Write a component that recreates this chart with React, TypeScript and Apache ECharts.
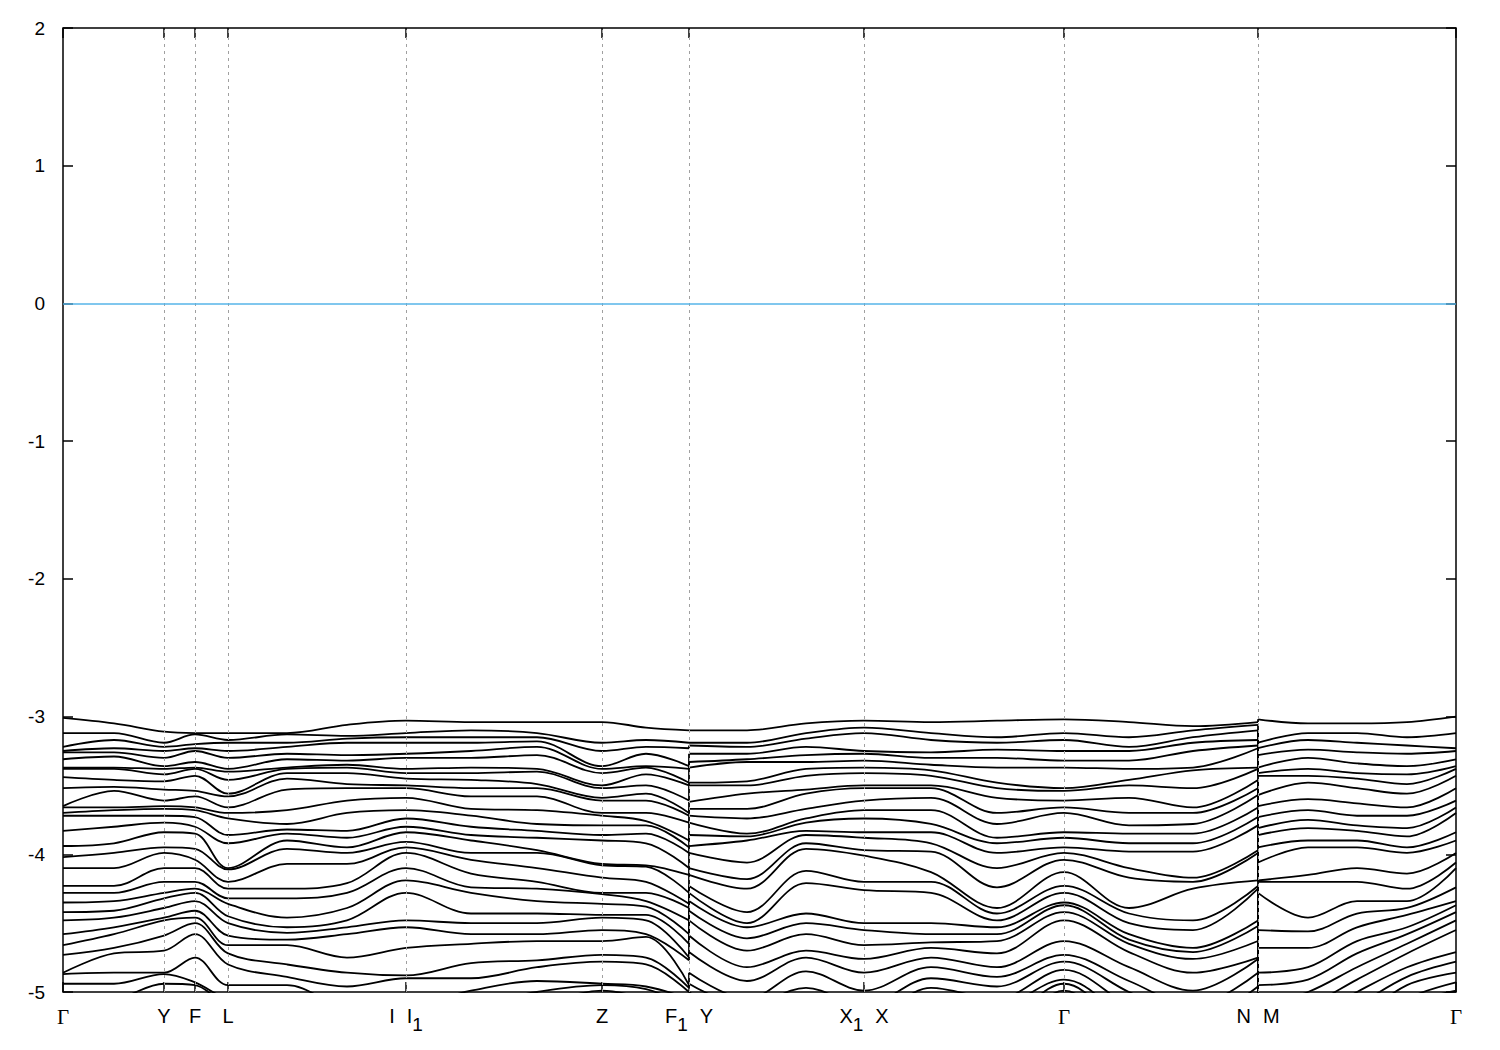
import React, { useEffect, useRef } from "react";
import * as echarts from "echarts";

// k-path distances (arbitrary units) of the sampled k-points
const kA = [0, 51, 101, 132, 165, 224, 284, 343, 408, 474, 539, 583, 626];
const kB = [626, 684, 743, 801, 868, 934, 1001, 1066, 1130, 1195];
const kC = [1195, 1245, 1294, 1344, 1393];

// high-symmetry points
const symPos = [0, 101, 132, 165, 343, 539, 626, 801, 1001, 1195, 1393];
const symLabels = ["Γ", "Y", "F", "L", "I|I_1", "Z", "F_1|Y", "X_1|X", "Γ", "N|M", "Γ"];

// eigenvalues (eV) at each k-point, sorted from highest band down
// segment Γ-Y-F-L-I | I1-Z-F1
const eA0 = [-3.01, -3.12, -3.22, -3.25, -3.26, -3.31, -3.37, -3.38, -3.44, -3.52, -3.65, -3.66, -3.70, -3.72, -3.83, -3.94, -4.02, -4.10, -4.23, -4.28, -4.35, -4.42, -4.48, -4.58, -4.66, -4.73, -4.86, -4.87, -4.94, -5.06];
const eA1 = [-3.05, -3.12, -3.17, -3.23, -3.26, -3.29, -3.37, -3.38, -3.46, -3.51, -3.54, -3.66, -3.68, -3.72, -3.80, -3.92, -3.99, -4.10, -4.23, -4.28, -4.34, -4.41, -4.46, -4.53, -4.58, -4.68, -4.72, -4.86, -4.94, -5.05];
const eA2 = [-3.11, -3.19, -3.22, -3.25, -3.30, -3.36, -3.38, -3.42, -3.47, -3.53, -3.61, -3.65, -3.67, -3.72, -3.77, -3.84, -3.95, -3.99, -4.10, -4.20, -4.28, -4.32, -4.39, -4.46, -4.48, -4.59, -4.70, -4.86, -4.87, -4.94];
const eA3 = [-3.12, -3.13, -3.20, -3.23, -3.25, -3.33, -3.37, -3.38, -3.43, -3.54, -3.58, -3.66, -3.68, -3.73, -3.80, -3.85, -3.96, -4.04, -4.10, -4.20, -4.25, -4.28, -4.34, -4.41, -4.46, -4.50, -4.58, -4.75, -4.93, -4.95];
const eA4 = [-3.12, -3.17, -3.19, -3.25, -3.30, -3.38, -3.40, -3.46, -3.56, -3.58, -3.66, -3.70, -3.74, -3.86, -3.92, -4.10, -4.11, -4.20, -4.25, -4.32, -4.36, -4.45, -4.50, -4.59, -4.66, -4.72, -4.80, -4.95, -5.05, -5.10];
const eA5 = [-3.12, -3.13, -3.19, -3.22, -3.27, -3.31, -3.37, -3.38, -3.41, -3.45, -3.53, -3.68, -3.78, -3.82, -3.85, -3.90, -3.96, -4.07, -4.25, -4.32, -4.46, -4.53, -4.57, -4.62, -4.66, -4.80, -4.89, -4.95, -5.10, -5.20];
const eA6 = [-3.06, -3.14, -3.16, -3.19, -3.28, -3.32, -3.35, -3.37, -3.41, -3.49, -3.52, -3.61, -3.70, -3.83, -3.88, -3.95, -3.99, -4.07, -4.21, -4.28, -4.39, -4.48, -4.53, -4.58, -4.75, -4.86, -4.96, -5.10, -5.20, -5.30];
const eA7 = [-3.03, -3.12, -3.15, -3.19, -3.27, -3.30, -3.38, -3.41, -3.45, -3.50, -3.52, -3.59, -3.68, -3.74, -3.80, -3.84, -3.91, -3.95, -3.99, -4.10, -4.19, -4.28, -4.48, -4.53, -4.68, -4.88, -4.90, -5.10, -5.20, -5.30];
const eA8 = [-3.04, -3.10, -3.15, -3.19, -3.25, -3.30, -3.37, -3.41, -3.46, -3.52, -3.58, -3.67, -3.72, -3.80, -3.86, -3.90, -3.99, -4.04, -4.14, -4.24, -4.28, -4.43, -4.50, -4.58, -4.65, -4.79, -4.90, -4.99, -5.10, -5.20];
const eA9 = [-3.04, -3.12, -3.15, -3.18, -3.22, -3.28, -3.38, -3.40, -3.49, -3.52, -3.58, -3.68, -3.78, -3.83, -3.88, -3.97, -3.99, -4.10, -4.20, -4.25, -4.34, -4.43, -4.50, -4.58, -4.63, -4.77, -4.82, -4.92, -5.00, -5.10];
const eA10 = [-3.04, -3.19, -3.25, -3.36, -3.38, -3.41, -3.50, -3.52, -3.59, -3.61, -3.70, -3.72, -3.79, -3.86, -3.90, -4.07, -4.08, -4.17, -4.28, -4.29, -4.36, -4.44, -4.46, -4.55, -4.63, -4.73, -4.78, -4.94, -4.95, -4.99];
const eA11 = [-3.08, -3.17, -3.22, -3.27, -3.36, -3.37, -3.42, -3.50, -3.56, -3.61, -3.70, -3.76, -3.79, -3.85, -3.92, -4.08, -4.09, -4.20, -4.28, -4.34, -4.38, -4.44, -4.48, -4.58, -4.60, -4.75, -4.80, -4.96, -4.98, -5.05];
const eA12 = [-3.10, -3.19, -3.23, -3.36, -3.38, -3.48, -3.50, -3.61, -3.70, -3.72, -3.77, -3.90, -3.95, -3.99, -4.10, -4.15, -4.28, -4.36, -4.39, -4.48, -4.58, -4.65, -4.75, -4.77, -4.95, -4.97, -5.00, -5.05, -5.10, -5.15];

// segment Y-X1 | X-Γ-N
const eB0 = [-3.10, -3.19, -3.21, -3.27, -3.33, -3.37, -3.48, -3.50, -3.62, -3.67, -3.72, -3.77, -3.86, -3.94, -3.99, -4.10, -4.15, -4.23, -4.28, -4.34, -4.41, -4.48, -4.59, -4.71, -4.86, -4.94, -5.00, -5.05, -5.10, -5.15];
const eB1 = [-3.10, -3.19, -3.22, -3.27, -3.31, -3.33, -3.47, -3.50, -3.56, -3.67, -3.74, -3.85, -3.87, -3.90, -4.06, -4.18, -4.25, -4.42, -4.50, -4.53, -4.61, -4.70, -4.82, -4.92, -5.05, -5.10, -5.20, -5.30, -5.40, -5.50];
const eB2 = [-3.05, -3.12, -3.16, -3.22, -3.28, -3.33, -3.38, -3.43, -3.53, -3.56, -3.67, -3.74, -3.77, -3.83, -3.86, -3.92, -3.96, -4.12, -4.21, -4.43, -4.50, -4.58, -4.70, -4.75, -4.85, -4.97, -5.10, -5.20, -5.30, -5.40];
const eB3 = [-3.03, -3.08, -3.12, -3.25, -3.27, -3.32, -3.37, -3.41, -3.50, -3.52, -3.61, -3.68, -3.74, -3.84, -3.88, -3.97, -4.01, -4.20, -4.26, -4.50, -4.55, -4.66, -4.76, -4.86, -4.99, -5.10, -5.20, -5.30, -5.40, -5.50];
const eB4 = [-3.04, -3.12, -3.17, -3.26, -3.30, -3.35, -3.39, -3.43, -3.50, -3.52, -3.59, -3.68, -3.78, -3.84, -3.92, -3.98, -4.13, -4.20, -4.28, -4.50, -4.58, -4.64, -4.68, -4.75, -4.82, -4.90, -4.97, -5.10, -5.20, -5.30];
const eB5 = [-3.03, -3.15, -3.19, -3.24, -3.30, -3.37, -3.48, -3.52, -3.59, -3.70, -3.78, -3.88, -3.92, -3.99, -4.10, -4.24, -4.39, -4.43, -4.48, -4.53, -4.58, -4.63, -4.72, -4.82, -4.89, -4.96, -5.05, -5.10, -5.20, -5.30];
const eB6 = [-3.02, -3.12, -3.17, -3.25, -3.32, -3.37, -3.52, -3.54, -3.61, -3.66, -3.70, -3.84, -3.88, -3.95, -3.99, -4.04, -4.13, -4.23, -4.28, -4.35, -4.37, -4.42, -4.48, -4.63, -4.73, -4.78, -4.84, -4.91, -4.94, -4.99];
const eB7 = [-3.04, -3.15, -3.22, -3.25, -3.32, -3.38, -3.46, -3.50, -3.59, -3.70, -3.79, -3.85, -3.92, -3.98, -4.10, -4.17, -4.39, -4.43, -4.50, -4.58, -4.62, -4.65, -4.71, -4.82, -4.92, -5.00, -5.10, -5.20, -5.30, -5.40];
const eB8 = [-3.07, -3.10, -3.15, -3.19, -3.25, -3.37, -3.39, -3.52, -3.66, -3.70, -3.78, -3.85, -3.92, -3.98, -4.17, -4.20, -4.25, -4.48, -4.55, -4.68, -4.71, -4.76, -4.86, -4.99, -5.10, -5.20, -5.30, -5.40, -5.50, -5.60];
const eB9 = [-3.04, -3.06, -3.10, -3.17, -3.21, -3.23, -3.37, -3.38, -3.46, -3.52, -3.57, -3.66, -3.73, -3.79, -3.97, -3.99, -4.19, -4.23, -4.25, -4.48, -4.52, -4.63, -4.75, -4.76, -4.86, -4.96, -5.10, -5.20, -5.30, -5.40];

// segment M-Γ
const eC0 = [-3.02, -3.19, -3.23, -3.28, -3.37, -3.41, -3.43, -3.57, -3.65, -3.73, -3.81, -3.86, -3.95, -4.06, -4.19, -4.20, -4.28, -4.55, -4.68, -4.86, -4.95, -5.10, -5.20, -5.30, -5.40, -5.50, -5.60, -5.70, -5.80, -5.90];
const eC1 = [-3.05, -3.12, -3.17, -3.24, -3.30, -3.38, -3.43, -3.48, -3.60, -3.68, -3.75, -3.81, -3.90, -3.95, -4.15, -4.20, -4.46, -4.56, -4.68, -4.82, -4.91, -5.00, -5.10, -5.20, -5.30, -5.40, -5.50, -5.60, -5.70, -5.80];
const eC2 = [-3.05, -3.12, -3.19, -3.26, -3.34, -3.41, -3.45, -3.52, -3.63, -3.72, -3.79, -3.83, -3.90, -3.95, -4.10, -4.20, -4.34, -4.43, -4.53, -4.63, -4.72, -4.82, -4.91, -5.00, -5.10, -5.20, -5.30, -5.40, -5.50, -5.60];
const eC3 = [-3.04, -3.15, -3.21, -3.27, -3.36, -3.42, -3.49, -3.56, -3.66, -3.72, -3.81, -3.87, -3.95, -3.99, -4.14, -4.25, -4.34, -4.39, -4.44, -4.53, -4.58, -4.65, -4.72, -4.82, -4.89, -4.95, -5.05, -5.10, -5.20, -5.30];
const eC4 = [-3.00, -3.12, -3.23, -3.25, -3.31, -3.36, -3.38, -3.43, -3.52, -3.61, -3.66, -3.70, -3.84, -3.90, -3.99, -4.06, -4.10, -4.24, -4.34, -4.37, -4.42, -4.48, -4.55, -4.71, -4.78, -4.86, -4.93, -4.99, -5.05, -5.10];

const yTicks = [-5, -4, -3, -2, -1, 0, 1, 2];
const fermiLevel = 0;

const segA = [eA0, eA1, eA2, eA3, eA4, eA5, eA6, eA7, eA8, eA9, eA10, eA11, eA12];
const segB = [eB0, eB1, eB2, eB3, eB4, eB5, eB6, eB7, eB8, eB9];
const segC = [eC0, eC1, eC2, eC3, eC4];

function toRich(label: string): string {
  return label
    .split("|")
    .map((part) => {
      if (part === "Γ") return "{g|Γ}";
      const [base, sub] = part.split("_");
      return sub ? `{m|${base}}{s|${sub}}` : `{m|${base}}`;
    })
    .join("{sp| }");
}

export default function App() {
  const ref = useRef<HTMLDivElement>(null);

  useEffect(() => {
    if (!ref.current) return;
    const chart = echarts.init(ref.current, undefined, { renderer: "svg" });
    const nBands = eA0.length;
    const series: any[] = [];

    // vertical dashed lines + Fermi level
    series.push({
      type: "line",
      data: [],
      silent: true,
      z: 1,
      markLine: {
        silent: true,
        symbol: "none",
        label: { show: false },
        lineStyle: { color: "#a0a0a0", type: [3, 4], width: 1 },
        data: symPos.slice(1, -1).map((v) => ({ xAxis: v })),
      },
    });
    series.push({
      type: "line",
      data: [],
      silent: true,
      z: 1,
      markLine: {
        silent: true,
        symbol: "none",
        label: { show: false },
        lineStyle: { color: "#56b4e9", type: "solid", width: 1.6 },
        data: [{ yAxis: fermiLevel }],
      },
    });

    const segs: [number[], number[][]][] = [
      [kA, segA],
      [kB, segB],
      [kC, segC],
    ];
    const bandStyle = { color: "#000", width: 1.8 };
    for (let b = 0; b < nBands; b++) {
      for (const [ks, cols] of segs) {
        series.push({
          type: "line",
          data: ks.map((k, j) => [k, cols[j][b]]),
          smooth: 0.35,
          symbol: "none",
          silent: true,
          clip: true,
          z: 3,
          lineStyle: bandStyle,
        });
      }
      // jumps at the path discontinuities
      series.push({
        type: "line",
        data: [
          [kA[kA.length - 1], eA12[b]],
          [kB[0], eB0[b]],
        ],
        symbol: "none",
        silent: true,
        clip: true,
        z: 3,
        lineStyle: bandStyle,
      });
      series.push({
        type: "line",
        data: [
          [kB[kB.length - 1], eB9[b]],
          [kC[0], eC0[b]],
        ],
        symbol: "none",
        silent: true,
        clip: true,
        z: 3,
        lineStyle: bandStyle,
      });
    }

    const font = "Liberation Sans, Arial, sans-serif";
    const tickStyle = { color: "#000", width: 1.5 };
    chart.setOption({
      animation: false,
      backgroundColor: "#fff",
      grid: {
        left: 63,
        right: 44,
        top: 28,
        bottom: 58,
        show: true,
        borderColor: "#000",
        borderWidth: 1.5,
        backgroundColor: "transparent",
      },
      xAxis: [
        {
          type: "value",
          min: symPos[0],
          max: symPos[symPos.length - 1],
          position: "bottom",
          axisLine: { show: false, onZero: false },
          splitLine: { show: false },
          axisTick: {
            show: true,
            inside: true,
            length: 10,
            customValues: symPos,
            lineStyle: tickStyle,
          },
          axisLabel: {
            show: true,
            margin: 14,
            customValues: symPos,
            formatter: (v: number) => {
              const i = symPos.indexOf(v);
              return i >= 0 ? toRich(symLabels[i]) : "";
            },
            rich: {
              m: { fontFamily: font, fontSize: 20, color: "#000", lineHeight: 22, verticalAlign: "top" },
              s: { fontFamily: font, fontSize: 19, color: "#000", lineHeight: 22, verticalAlign: "top", padding: [9, 0, 0, 0] },
              g: { fontFamily: "Liberation Serif, DejaVu Serif, serif", fontSize: 21, color: "#000", lineHeight: 22, verticalAlign: "top" },
              sp: { fontFamily: font, fontSize: 20, width: 12, lineHeight: 22, verticalAlign: "top" },
            },
          },
        },
        {
          type: "value",
          min: symPos[0],
          max: symPos[symPos.length - 1],
          position: "top",
          axisLine: { show: false, onZero: false },
          splitLine: { show: false },
          axisLabel: { show: false },
          axisTick: {
            show: true,
            inside: true,
            length: 10,
            customValues: symPos,
            lineStyle: tickStyle,
          },
        },
      ],
      yAxis: [
        {
          type: "value",
          min: yTicks[0],
          max: yTicks[yTicks.length - 1],
          interval: 1,
          position: "left",
          axisLine: { show: false, onZero: false },
          splitLine: { show: false },
          axisTick: { show: true, inside: true, length: 10, lineStyle: tickStyle },
          axisLabel: {
            show: true,
            margin: 18,
            color: "#000",
            fontFamily: font,
            fontSize: 19,
            formatter: (v: number) => String(v),
          },
        },
        {
          type: "value",
          min: yTicks[0],
          max: yTicks[yTicks.length - 1],
          interval: 1,
          position: "right",
          axisLine: { show: false, onZero: false },
          splitLine: { show: false },
          axisLabel: { show: false },
          axisTick: { show: true, inside: true, length: 10, lineStyle: tickStyle },
        },
      ],
      series,
    });

    return () => chart.dispose();
  }, []);

  return (
    <div
      ref={ref}
      style={{ position: "fixed", left: 0, top: 0, width: 1500, height: 1050, background: "#fff" }}
    />
  );
}
